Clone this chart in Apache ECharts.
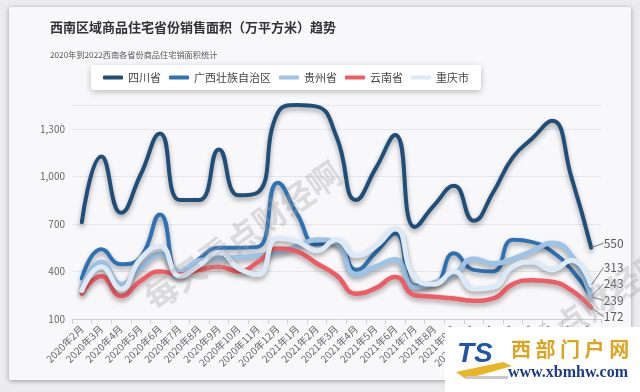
<!DOCTYPE html>
<html><head><meta charset="utf-8">
<script src="https://cdn.jsdelivr.net/npm/echarts@6/dist/echarts.min.js"></script>
<style>
html,body{margin:0;padding:0;width:640px;height:392px;overflow:hidden;background:#ececee;}
#card{position:absolute;left:9px;top:7px;width:622px;height:373px;background:#f8f8fa;box-shadow:0 1px 5px rgba(0,0,0,0.35);border-radius:2px;}
#chart{position:absolute;left:0;top:0;width:640px;height:392px;}
</style></head><body>
<div id="card"></div><div id="chart"></div>
<script>
const categories = ['2020年2月','2020年3月','2020年4月','2020年5月','2020年6月','2020年7月','2020年8月','2020年9月','2020年10月','2020年11月','2020年12月','2021年1月','2021年2月','2021年3月','2021年4月','2021年5月','2021年6月','2021年7月','2021年8月','2021年9月','2021年10月','2021年11月','2021年12月','2022年1月','2022年2月','2022年3月','2022年4月'];
const seriesNames = ['四川省','广西壮族自治区','贵州省','云南省','重庆市'];
const sichuan   = [710,1125,770,1010,1270,850,850,1170,880,900,1400,1450,1440,1250,850,1050,1260,680,820,940,720,900,1120,1240,1350,990,550];
const guangxi   = [355,540,445,490,760,375,480,550,550,555,960,760,570,590,410,520,640,310,320,515,410,400,600,585,525,410,243];
const guizhou   = [300,460,320,420,510,400,470,480,490,500,520,560,600,580,380,430,475,300,330,380,480,450,480,530,580,500,239];
const yunnan    = [260,370,245,340,400,380,410,430,400,460,545,525,450,375,260,295,365,250,240,230,215,230,320,345,335,280,172];
const chongqing = [280,430,290,480,560,370,440,520,420,380,610,590,530,600,500,560,670,360,320,400,290,300,430,460,410,470,313];
const yTicks = {min:100, interval:300};

const colors = ['#1f4e79','#2e72b4','#9dc3e6','#ef5c64','#dce9f6'];
const widths = [4,4,5,4.5,5];
const allData = [sichuan, guangxi, guizhou, yunnan, chongqing];

const font = "'Noto Sans CJK SC','Noto Sans',sans-serif";
const chart = echarts.init(document.getElementById('chart'), null, {renderer:'canvas'});

const lineSeries = allData.map((d,i)=>({
  name: seriesNames[i], type:'line', data:d, smooth:true, showSymbol:false, symbol:'none',
  lineStyle:{color:colors[i], width:widths[i], cap:'round', shadowColor:'rgba(0,0,0,0.35)', shadowBlur:5, shadowOffsetY:3},
  itemStyle:{color:colors[i]}, emphasis:{disabled:true}, z:2+i
}));
const last = categories.length-1;
let labelOffsets = allData.map(()=>0);
const endSeries = {
  name:'end', type:'scatter', symbolSize:1, itemStyle:{color:'rgba(0,0,0,0)'},
  data: allData.map(d=>[categories[last], d[last]]),
  label:{show:true, position:'right', distance:12, fontSize:12, lineHeight:16, color:'#333', fontFamily:font,
    formatter:p=>p.value[1]},
  labelLine:{show:true, lineStyle:{color:'#777', width:1}},
  labelLayout:(p)=>({dy: labelOffsets[p.dataIndex]}), z:10, silent:true
};

const option = {
  animation:false,
  textStyle:{fontFamily:font},
  title:{text:'西南区域商品住宅省份销售面积（万平方米）趋势', subtext:'2020年到2022西南各省份商品住宅销面积统计',
    left:45, top:14, itemGap:13,
    textStyle:{fontSize:13, fontWeight:'bold', color:'#333', lineHeight:17, fontFamily:font},
    subtextStyle:{fontSize:8.2, color:'#555', lineHeight:11, fontFamily:font}},
  legend:{data:seriesNames, left:91, top:65, backgroundColor:'#fff', padding:[7,12], itemGap:8, itemWidth:20, itemHeight:4,
    icon:'roundRect', textStyle:{fontSize:11, color:'#444', fontFamily:font},
    shadowBlur:6, shadowColor:'rgba(0,0,0,0.25)', shadowOffsetY:2, borderRadius:2},
  grid:{left:72, right:39, top:105, bottom:73},
  xAxis:{type:'category', data:categories, boundaryGap:true,
    axisLine:{lineStyle:{color:'#cfcfd4'}}, axisTick:{show:true, lineStyle:{color:'#cfcfd4'}},
    axisLabel:{rotate:45, interval:0, fontSize:10, color:'#666', margin:8, fontFamily:font}},
  yAxis:{type:'value', min:yTicks.min, max:'dataMax', interval:yTicks.interval,
    axisLine:{show:false}, axisTick:{show:false},
    axisLabel:{fontSize:10, color:'#666', margin:7, showMaxLabel:false, fontFamily:font},
    splitLine:{lineStyle:{color:'#e6e6eb'}}},
  series: lineSeries.concat([endSeries]),
  graphic:[
    {type:'text', x:148, y:302, rotation:0.61, z:100, silent:true,
      style:{text:'每天看点财经啊', fontSize:33, fontWeight:'bold', fontFamily:font, fill:'rgba(160,160,165,0.33)', verticalAlign:'middle'}},
    {type:'text', x:476, y:388, rotation:0.61, z:100, silent:true,
      style:{text:'每天看点财经啊', fontSize:33, fontWeight:'bold', fontFamily:font, fill:'rgba(160,160,165,0.33)', verticalAlign:'middle'}},
    {type:'rect', z:200, silent:true, shape:{x:445, y:327, width:195, height:65}, style:{fill:'#ffffff'}},
    {type:'polygon', z:201, silent:true, shape:{points:[[456,372],[503,362],[512,366],[466,379]]}, style:{fill:'#e8b526'}},
    {type:'rect', z:201, silent:true, shape:{x:466, y:376, width:42, height:3}, style:{fill:'#c9c9c9'}},
    {type:'text', x:457, y:354, z:202, silent:true,
      style:{text:'TS', fontSize:28, fontWeight:'bold', fontStyle:'italic', fontFamily:'Liberation Sans', fill:'#1f55a6', verticalAlign:'middle'}},
    {type:'text', x:511, y:349, z:202, silent:true,
      style:{text:'西 部 门 户 网', fontSize:20, fontWeight:'bold', fontFamily:font, fill:'#dba421', verticalAlign:'middle'}},
    {type:'text', x:508, y:373, z:202, silent:true,
      style:{text:'www.xbmhw.com', fontSize:16, fontWeight:'bold', fontFamily:'Liberation Serif', fill:'#1b3a8c', verticalAlign:'middle'}}
  ]
};
chart.setOption(option);

// spread end labels vertically so they do not overlap
const gap = 16.5, lift = -4.5;
const nat = allData.map(d => chart.convertToPixel({seriesIndex:0}, [last, d[last]])[1]);
const order = nat.map((y,i)=>i).sort((a,b)=>nat[a]-nat[b]);
let clusters = order.map(i=>({idx:[i], mean:nat[i]}));
let changed = true;
function posOf(c){ const n=c.idx.length; return c.idx.map((_,k)=>c.mean + (k-(n-1)/2)*gap); }
while(changed){
  changed=false;
  for(let k=0;k<clusters.length-1;k++){
    const a=clusters[k], b=clusters[k+1];
    const pa=posOf(a), pb=posOf(b);
    if(pb[0]-pa[pa.length-1] < gap){
      const idx=a.idx.concat(b.idx);
      const mean=idx.reduce((s,i)=>s+nat[i],0)/idx.length;
      clusters.splice(k,2,{idx,mean});
      changed=true; break;
    }
  }
}
clusters.forEach(c=>{ const p=posOf(c); c.idx.forEach((i,k)=>{ labelOffsets[i]=p[k]-nat[i]+lift; }); });
chart.setOption({series: option.series.map((s,i)=> i===option.series.length-1 ? {labelLayout:(p)=>({dy: labelOffsets[p.dataIndex]})} : {})});
</script>
</body></html>
